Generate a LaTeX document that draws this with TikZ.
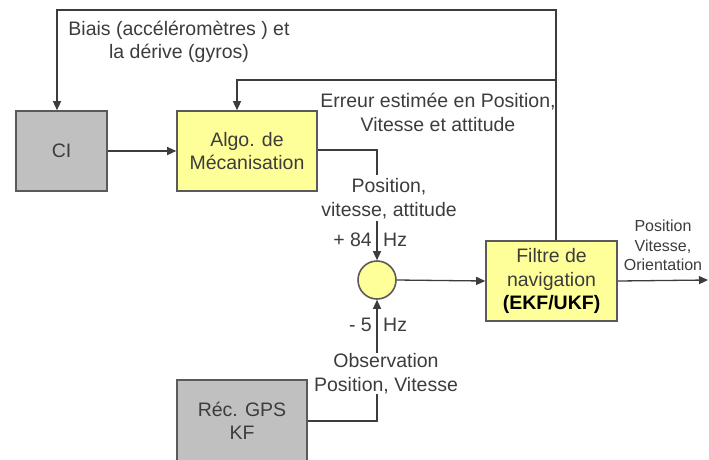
\documentclass[tikz,border=0pt]{standalone}
\usepackage{fontspec}
\setmainfont{Liberation Sans}
\usetikzlibrary{arrows.meta}
\definecolor{boxgray}{HTML}{C0C0C0}
\definecolor{boxyellow}{HTML}{FFFF99}
\definecolor{edgegray}{HTML}{5A5A5A}
\definecolor{inkgray}{HTML}{3C3C3C}
\begin{document}
\begin{tikzpicture}[x=1pt, y=-1pt, >={Triangle[length=9pt,width=8pt]},
  txt/.style={align=center, text=inkgray, inner sep=0pt, font=\fontsize{19.5}{23.5}\selectfont},
  small/.style={txt, font=\fontsize{16}{19.5}\selectfont},
  block/.style={txt, draw=edgegray, line width=1.6pt, minimum height=80pt},
  link/.style={draw=inkgray, line width=1.3pt}]
  \useasboundingbox (0,0) rectangle (709,459);

  % Blocks
  \node[block, fill=boxgray, minimum width=91pt] (ci) at (61.5,151) {CI};
  \node[block, fill=boxyellow, minimum width=140pt] (algo) at (247,151) {Algo. de\\Mécanisation};
  \node[block, fill=boxyellow, minimum width=131pt] (filtre) at (551.5,281) {Filtre de\\navigation\\\textbf{\color{black}(EKF/UKF)}};
  \node[block, fill=boxgray, minimum width=130pt, minimum height=82pt] (gps) at (242,421) {Réc. GPS\\KF};
  \node[draw=edgegray, fill=boxyellow, line width=1.6pt, circle, minimum size=38pt, inner sep=0pt] (sum) at (377,280) {};

  % Labels
  \node[txt] (biais) at (179,42) {Biais (accéléromètres ) et\\la dérive (gyros)};
  \node[txt] (erreur) at (438,112.5) {Erreur estimée en Position,\\Vitesse et attitude};
  \node[txt] (pva) at (389,198.5) {Position,\\vitesse, attitude};
  \node[txt, anchor=east] (plus) at (372,240) {+ 84};
  \node[txt, anchor=west] (hzup) at (383,240) {Hz};
  \node[txt, anchor=east] (moins) at (372,325) {- 5};
  \node[txt, anchor=west] (hzdown) at (383,325) {Hz};
  \node[txt] (obs) at (386,373.5) {Observation\\Position, Vitesse};
  \node[small] (sortie) at (663,245.5) {Position\\Vitesse,\\Orientation};

  % Feedback corners and output end
  \coordinate (fbtop) at (556,10);
  \coordinate (fbmid) at (556,80);
  \coordinate (out) at (708,280);

  % Connectors
  \draw[link, ->] (ci.east) -- (algo.west);
  \draw[link] (algo.east |- 0,150) -| ([yshift=3pt]sum.north |- pva.north);
  \draw[link, ->] ([yshift=-2pt]sum.north |- pva.south) -- (sum.north);
  \draw[link, ->] (sum.south |- obs.north) -- (sum.south);
  \draw[link] (sum.south |- obs.south) |- (gps.east);
  \draw[link, ->] (sum.east) -- (filtre.west);
  \draw[link, ->] (filtre.east) -- (out);
  \draw[link, ->] (filtre.north -| fbtop) -- (fbtop) -| ([xshift=-4.5pt]ci.north);
  \draw[link, ->] (fbmid) -| ([xshift=-10pt]algo.north);
\end{tikzpicture}
\end{document}
